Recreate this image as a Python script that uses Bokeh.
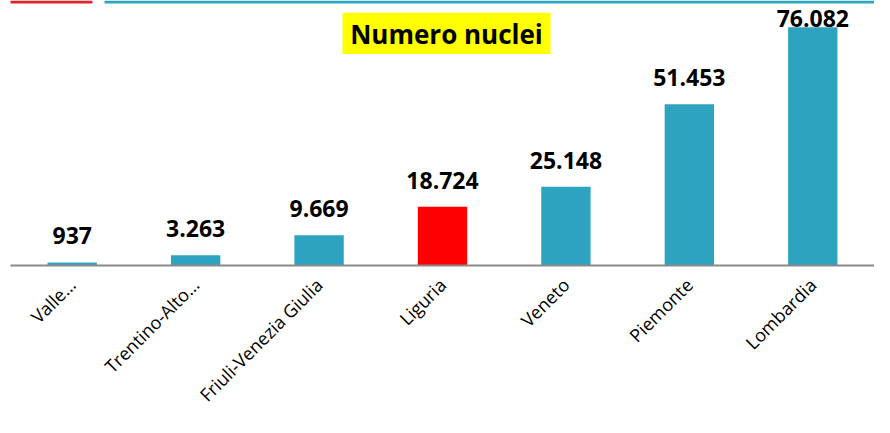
import numpy as np
from math import pi
from bokeh.plotting import figure
from bokeh.models import ColumnDataSource, Range1d, Label, BoxAnnotation
from bokeh.core.properties import value
from bokeh.embed import file_html
from bokeh.resources import INLINE

# ---- data ----
regions = ["Valle…", "Trentino-Alto…", "Friuli-Venezia Giulia", "Liguria",
           "Veneto", "Piemonte", "Lombardia"]
nuclei = [937, 3263, 9669, 18724, 25148, 51453, 76082]
highlight = "Liguria"
title_text = "Numero nuclei"

TEAL = "#2EA3C0"
RED = "#FF0000"
FONT = "Open Sans"

W, H = 874, 417
FRAME_H = 268            # expected plot-area height (axis takes the rest)
TOP_GAP_PX = 27          # space above the tallest bar
y_max = max(nuclei) * FRAME_H / (FRAME_H - TOP_GAP_PX)
upx = y_max / FRAME_H    # data units per pixel

colors = [RED if r == highlight else TEAL for r in regions]
labels = [f"{v:,}".replace(",", ".") for v in nuclei]
vals = np.array(nuclei, dtype=float)
label_y = np.minimum(vals + 27 * upx, y_max - 18 * upx)

src = ColumnDataSource(dict(x=regions, top=nuclei, color=colors,
                            lab=labels, ly=label_y))

p = figure(width=W, height=H, x_range=regions, y_range=Range1d(0, y_max),
           output_backend="svg", toolbar_location=None, y_axis_location=None,
           min_border_left=10, min_border_right=0, min_border_top=0,
           min_border_bottom=H - FRAME_H)
p.outline_line_color = None
p.xgrid.grid_line_color = None
p.ygrid.grid_line_color = None
p.x_range.range_padding = 0
p.background_fill_color = "white"
p.border_fill_color = "white"

p.vbar(x="x", top="top", width=0.4, color="color", line_color=None, source=src)
p.text(x="x", y="ly", text="lab", source=src, text_align="center",
       text_baseline="alphabetic", text_font=value(FONT),
       text_font_style="bold", text_font_size="23px", text_color="black")

ax = p.xaxis[0]
ax.axis_line_color = "#898989"
ax.axis_line_width = 2
ax.major_tick_line_color = None
ax.minor_tick_line_color = None
ax.major_label_orientation = pi / 4
ax.major_label_text_font = FONT
ax.major_label_text_font_size = "18px"
ax.major_label_text_line_height = 0.75
ax.major_label_text_color = "black"
ax.major_label_standoff = 10

# title box (yellow) + text
p.add_layout(BoxAnnotation(left=332, right=540,
                           top=y_max - 12.5 * upx, bottom=y_max - 54 * upx,
                           left_units="screen", right_units="screen",
                           fill_color="#FFFF00", fill_alpha=1, line_color=None))
p.add_layout(Label(x=436, y=y_max - 33.5 * upx, x_units="screen",
                   text=title_text, text_align="center", text_baseline="middle",
                   text_font=FONT, text_font_style="bold", text_font_size="26px",
                   text_color="black"))

# decorative top strips
p.add_layout(BoxAnnotation(left=-10, right=82, top=y_max, bottom=y_max - 3 * upx,
                           left_units="screen", right_units="screen",
                           fill_color="#E3232C", fill_alpha=1, line_color=None))
p.add_layout(BoxAnnotation(left=94, right=864, top=y_max, bottom=y_max - 3 * upx,
                           left_units="screen", right_units="screen",
                           fill_color=TEAL, fill_alpha=1, line_color=None))

open("out.html", "w").write(file_html(p, INLINE))
